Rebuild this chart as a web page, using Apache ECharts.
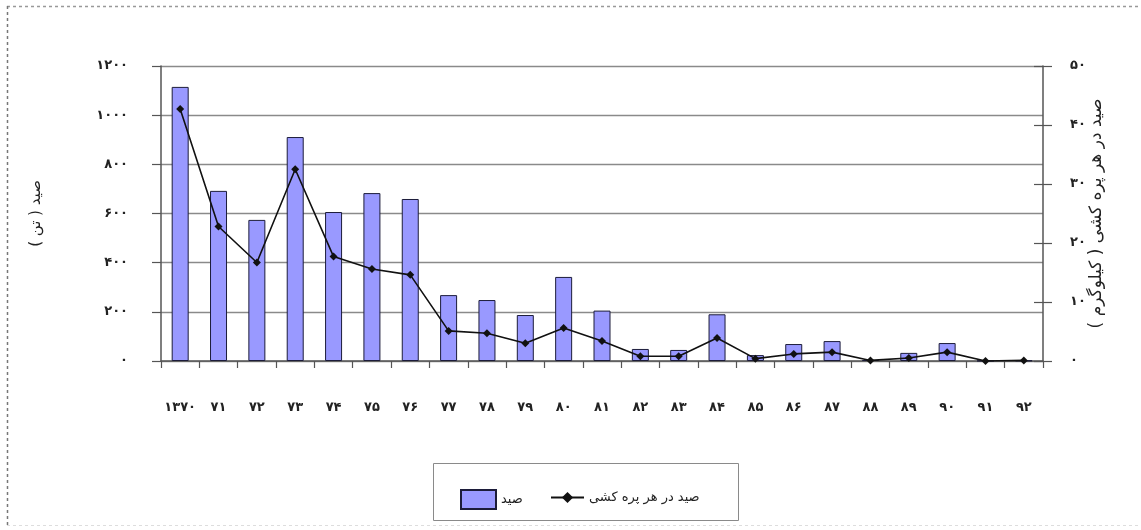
<!DOCTYPE html>
<html>
<head>
<meta charset="utf-8">
<script src="https://cdn.jsdelivr.net/npm/echarts@6/dist/echarts.min.js"></script>
<style>
  html, body { margin: 0; padding: 0; background: #fff; }
  #chart { width: 1141px; height: 530px; }
</style>
</head>
<body>
<div id="chart"></div>
<script>
// Years (Persian calendar) on the category axis
const years = ['۱۳۷۰','۷۱','۷۲','۷۳','۷۴','۷۵','۷۶','۷۷','۷۸','۷۹','۸۰','۸۱','۸۲','۸۳','۸۴','۸۵','۸۶','۸۷','۸۸','۸۹','۹۰','۹۱','۹۲'];

// Total catch (tonnes) – bars, left axis
const totalCatch = [1115, 692, 574, 911, 606, 683, 659, 268, 248, 187, 342, 205, 49, 45, 190, 24, 69, 81, 4, 33, 73, 1, 2];

// Catch per haul (kg) – line, right axis
const catchPerHaul = [42.7, 22.8, 16.7, 32.5, 17.7, 15.6, 14.6, 5.1, 4.7, 3.0, 5.6, 3.4, 0.8, 0.8, 3.9, 0.4, 1.2, 1.5, 0.1, 0.5, 1.5, 0.0, 0.1];

// Tick labels in Persian digits
const leftTickLabels = ['۰','۲۰۰','۴۰۰','۶۰۰','۸۰۰','۱۰۰۰','۱۲۰۰'];
const rightTickLabels = ['۰','۱۰','۲۰','۳۰','۴۰','۵۰'];

const seriesNames = ['صید', 'صید در هر پره کشی'];
const leftTitle = 'صید ( تن )';
const rightTitle = 'صید در هر پره کشی ( کیلوگرم )';

const FONT = "'DejaVu Sans', sans-serif";
const TXT = '#222';

const chart = echarts.init(document.getElementById('chart'));

chart.setOption({
  animation: false,
  backgroundColor: '#fff',
  textStyle: { fontFamily: FONT },
  grid: { left: 161, right: 98, top: 66, bottom: 169 },
  graphic: [
    // outer dotted frame
    { type: 'line', shape: { x1: 7, y1: 6.5, x2: 1141, y2: 6.5 },
      style: { stroke: '#999', lineWidth: 1.5, lineDash: [3, 3] }, silent: true },
    { type: 'line', shape: { x1: 7.5, y1: 6, x2: 7.5, y2: 526 },
      style: { stroke: '#777', lineWidth: 1.5, lineDash: [3, 3] }, silent: true },
    { type: 'line', shape: { x1: 7, y1: 525.5, x2: 1141, y2: 525.5 },
      style: { stroke: '#ddd', lineWidth: 1, lineDash: [3, 3] }, silent: true },
    // legend box
    { type: 'rect', shape: { x: 433.5, y: 463.5, width: 305, height: 57 },
      style: { fill: '#fff', stroke: '#8a8a8a', lineWidth: 1 }, z: 0, silent: true }
  ],
  legend: [
    {
      data: [{ name: seriesNames[0], icon: 'rect' }],
      left: 455, top: 484,
      itemWidth: 35, itemHeight: 19, itemGap: 8,
      textStyle: { fontFamily: FONT, fontSize: 13, color: TXT },
      z: 5
    },
    {
      data: [seriesNames[1]],
      left: 545, top: 486,
      itemWidth: 33, itemHeight: 14, itemGap: 5,
      textStyle: { fontFamily: FONT, fontSize: 13, color: TXT },
      z: 5
    }
  ],
  xAxis: {
    type: 'category',
    data: years,
    boundaryGap: true,
    axisLine: { lineStyle: { color: '#555', width: 1.5 } },
    axisTick: { show: true, length: 7, lineStyle: { color: '#555', width: 1.2 } },
    axisLabel: { margin: 40, fontFamily: FONT, fontSize: 13, fontWeight: 'bold', color: TXT, interval: 0 }
  },
  yAxis: [
    {
      type: 'value', min: 0, max: 1200, interval: 200,
      name: leftTitle, nameLocation: 'middle', nameRotate: 90, nameGap: 117,
      nameMoveOverlap: false,
      nameTextStyle: { fontFamily: FONT, fontSize: 15, color: TXT },
      axisLine: { show: true, lineStyle: { color: '#555', width: 1.5 } },
      axisTick: { show: true, length: 9, lineStyle: { color: '#555', width: 1.2 } },
      axisLabel: {
        margin: 33, fontFamily: FONT, fontSize: 13, fontWeight: 'bold', color: TXT,
        formatter: v => leftTickLabels[Math.round(v / 200)]
      },
      splitLine: { show: true, lineStyle: { color: '#8a8a8a', width: 1.3 } }
    },
    {
      type: 'value', min: 0, max: 50, interval: 10, position: 'right',
      name: rightTitle, nameLocation: 'middle', nameRotate: 90, nameGap: 45,
      nameMoveOverlap: false,
      nameTextStyle: { fontFamily: FONT, fontSize: 17, color: TXT },
      axisLine: { show: true, lineStyle: { color: '#555', width: 1.5 } },
      axisTick: { show: true, length: 9, lineStyle: { color: '#555', width: 1.2 } },
      axisLabel: {
        margin: 27, fontFamily: FONT, fontSize: 13, fontWeight: 'bold', color: TXT,
        formatter: v => rightTickLabels[Math.round(v / 10)]
      },
      splitLine: { show: false }
    },
    {
      // inner half of the right-hand tick marks
      type: 'value', min: 0, max: 50, interval: 10, position: 'right',
      axisLine: { show: false },
      axisTick: { show: true, inside: true, length: 9, lineStyle: { color: '#555', width: 1.2 } },
      axisLabel: { show: false },
      splitLine: { show: false }
    }
  ],
  series: [
    {
      name: seriesNames[0],
      type: 'bar',
      data: totalCatch,
      yAxisIndex: 0,
      barWidth: 17,
      itemStyle: { color: '#9999ff', borderColor: '#1c1c3a', borderWidth: 1 },
      z: 2
    },
    {
      name: seriesNames[1],
      type: 'line',
      data: catchPerHaul,
      yAxisIndex: 1,
      symbol: 'diamond',
      symbolSize: 8,
      lineStyle: { color: '#111', width: 1.6 },
      itemStyle: { color: '#111' },
      z: 3
    }
  ]
});
</script>
</body>
</html>
